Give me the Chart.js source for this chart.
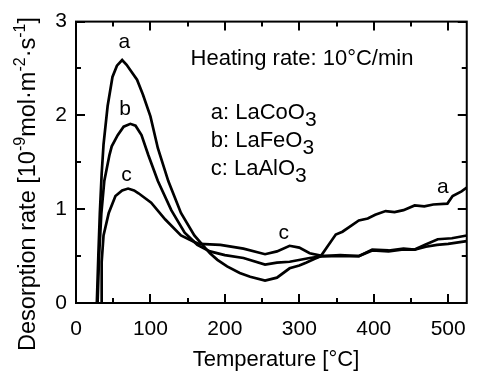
<!DOCTYPE html>
<html>
<head>
<meta charset="utf-8">
<script src="https://cdn.jsdelivr.net/npm/chart.js@4.4.1/dist/chart.umd.min.js"></script>
<style>
  html, body { margin: 0; padding: 0; background: #fff; }
  #wrap { width: 480px; height: 374px; }
</style>
</head>
<body>
<div id="wrap"><canvas id="tpdChart" width="480" height="374"></canvas></div>
<script>
const FONT = '"Liberation Sans", Arial, Helvetica, sans-serif';

// tick labels
const xTicks = [0, 100, 200, 300, 400, 500];
const yTicks = [0, 1, 2, 3];

// series names (a, b, c)
const seriesKeys = ['a', 'b', 'c'];
const seriesNames = ['LaCoO3', 'LaFeO3', 'LaAlO3'];

// a: LaCoO3
const tempA = [28, 30, 32, 34.5, 37, 42.5, 49, 55, 62, 68, 75, 82, 90, 100, 110, 124, 141, 159, 170, 180, 190, 203, 220, 234, 254, 270, 287, 300, 309, 320, 329, 336, 349, 358, 367, 380, 392, 402, 416, 428, 440, 455, 468, 480, 499, 506, 518, 525];
const rateA = [0, 0.5, 0.95, 1.38, 1.69, 2.10, 2.41, 2.53, 2.59, 2.54, 2.46, 2.38, 2.22, 1.99, 1.65, 1.30, 0.96, 0.72, 0.62, 0.53, 0.46, 0.39, 0.32, 0.28, 0.24, 0.27, 0.37, 0.40, 0.43, 0.47, 0.50, 0.58, 0.73, 0.76, 0.81, 0.88, 0.90, 0.94, 0.98, 0.97, 0.99, 1.04, 1.03, 1.05, 1.06, 1.14, 1.19, 1.23];

// b: LaFeO3
const tempB = [29, 31, 34, 38, 41, 45, 48, 56, 64, 73, 80, 88, 97, 110, 128, 146, 163, 180, 200, 225, 254, 270, 287, 314, 332, 355, 380, 398, 420, 440, 455, 469, 486, 505, 525];
const rateB = [0, 0.5, 0.95, 1.3, 1.42, 1.58, 1.67, 1.79, 1.88, 1.91, 1.89, 1.79, 1.58, 1.30, 0.99, 0.75, 0.62, 0.55, 0.51, 0.48, 0.41, 0.43, 0.44, 0.48, 0.50, 0.51, 0.50, 0.57, 0.56, 0.58, 0.57, 0.62, 0.68, 0.69, 0.72];

// c: LaAlO3
const tempC = [34, 34.5, 37, 44, 53, 62, 70, 78, 84, 101, 120, 141, 159, 166, 194, 225, 254, 270, 287, 300, 314, 332, 355, 380, 398, 420, 440, 455, 470, 485, 500, 525];
const rateC = [0, 0.44, 0.72, 0.96, 1.14, 1.20, 1.22, 1.20, 1.17, 1.07, 0.89, 0.72, 0.65, 0.63, 0.62, 0.58, 0.52, 0.55, 0.61, 0.59, 0.53, 0.50, 0.50, 0.50, 0.56, 0.55, 0.57, 0.57, 0.60, 0.62, 0.63, 0.66];

const toPoints = (xs, ys) => xs.map((t, i) => ({ x: t, y: ys[i] }));

// text runs: [{t, size, dy}] drawn left to right
function runsWidth(ctx, runs) {
  return runs.reduce((w, r) => {
    ctx.font = r.size + 'px ' + FONT;
    return w + ctx.measureText(r.t).width;
  }, 0);
}
function drawRuns(ctx, runs, x, y) {
  runs.forEach(r => {
    ctx.font = r.size + 'px ' + FONT;
    ctx.fillText(r.t, x, y + (r.dy || 0));
    x += ctx.measureText(r.t).width;
  });
}
function formulaRuns(name, size) {
  // digits become subscripts
  return name.split(/(\d+)/).filter(s => s).map(s =>
    /\d/.test(s) ? { t: s, size: size - 1, dy: 7 } : { t: s, size: size });
}

const frameAndText = {
  id: 'frameAndText',
  afterDraw(chart) {
    const { ctx, chartArea: a, scales } = chart;
    const xs = scales.x, ys = scales.y;
    ctx.save();
    ctx.strokeStyle = '#000';
    ctx.fillStyle = '#000';

    // frame
    ctx.lineWidth = 2;
    ctx.strokeRect(a.left, a.top, a.right - a.left, a.bottom - a.top);

    // inward ticks on all sides
    const xMinor = [50, 150, 250, 350, 450];
    const yMinor = [0.5, 1.5, 2.5];
    const seg = (x1, y1, x2, y2) => {
      ctx.beginPath();
      ctx.moveTo(x1, y1);
      ctx.lineTo(x2, y2);
      ctx.stroke();
    };
    xTicks.concat(xMinor).forEach(v => {
      const px = Math.round(xs.getPixelForValue(v));
      const len = xTicks.includes(v) ? 9 : 5;
      seg(px, a.bottom, px, a.bottom - len);
      seg(px, a.top, px, a.top + len);
    });
    yTicks.concat(yMinor).forEach(v => {
      const py = Math.round(ys.getPixelForValue(v));
      const len = yTicks.includes(v) ? 9 : 5;
      seg(a.left, py, a.left + len, py);
      seg(a.right, py, a.right - len, py);
    });

    ctx.textBaseline = 'alphabetic';

    // curve labels
    ctx.textAlign = 'center';
    ctx.font = '21px ' + FONT;
    [['a', 65, 2.72], ['b', 66, 2.0], ['c', 68, 1.3], ['c', 279, 0.68], ['a', 493, 1.17]].forEach(([t, tx, ty]) => {
      ctx.fillText(t, xs.getPixelForValue(tx), ys.getPixelForValue(ty));
    });

    // heading and legend
    ctx.textAlign = 'left';
    ctx.font = '22px ' + FONT;
    ctx.fillText('Heating rate: 10\u00B0C/min', xs.getPixelForValue(154), ys.getPixelForValue(2.54));
    seriesKeys.forEach((k, i) => {
      const runs = [{ t: k + ': ', size: 22 }].concat(formulaRuns(seriesNames[i], 22));
      drawRuns(ctx, runs, xs.getPixelForValue(181), ys.getPixelForValue(1.96 - i * 0.3));
    });

    // x title
    ctx.textAlign = 'center';
    ctx.font = '22px ' + FONT;
    ctx.fillText('Temperature [\u00B0C]', 276, 366);

    // y title with superscripts
    const sup = { size: 16, dy: -10 };
    const yRuns = [
      { t: 'Desorption rate [10', size: 23.5 },
      Object.assign({ t: '-9' }, sup),
      { t: 'mol\u00B7m', size: 23.5 },
      Object.assign({ t: '-2' }, sup),
      { t: '\u00B7s', size: 23.5 },
      Object.assign({ t: '-1' }, sup),
      { t: ']', size: 23.5 }
    ];
    ctx.textAlign = 'left';
    const w = runsWidth(ctx, yRuns);
    ctx.translate(35, 184);
    ctx.rotate(-Math.PI / 2);
    drawRuns(ctx, yRuns, -w / 2, 0);

    ctx.restore();
  }
};

const lineStyle = { showLine: true, pointRadius: 0, borderColor: '#000', borderWidth: 2.7, tension: 0, fill: false };

new Chart(document.getElementById('tpdChart'), {
  type: 'scatter',
  data: {
    datasets: [
      Object.assign({ label: seriesNames[0], data: toPoints(tempA, rateA) }, lineStyle),
      Object.assign({ label: seriesNames[1], data: toPoints(tempB, rateB) }, lineStyle),
      Object.assign({ label: seriesNames[2], data: toPoints(tempC, rateC) }, lineStyle)
    ]
  },
  options: {
    responsive: false,
    animation: false,
    layout: { padding: { top: 13, right: 7, left: 0, bottom: 0 } },
    plugins: { legend: { display: false }, tooltip: { enabled: false } },
    scales: {
      x: {
        type: 'linear',
        min: 0,
        max: 525,
        afterBuildTicks: s => { s.ticks = xTicks.map(v => ({ value: v })); },
        afterFit: s => { s.height = 71; },
        grid: { display: false, drawTicks: false },
        border: { display: false },
        ticks: { color: '#000', padding: 14, maxRotation: 0, font: { family: FONT, size: 21 } }
      },
      y: {
        type: 'linear',
        min: 0,
        max: 3,
        afterBuildTicks: s => { s.ticks = yTicks.map(v => ({ value: v })); },
        afterFit: s => { s.width = 76; },
        grid: { display: false, drawTicks: false },
        border: { display: false },
        ticks: { color: '#000', padding: 9, font: { family: FONT, size: 21 } }
      }
    }
  },
  plugins: [frameAndText]
});
</script>
</body>
</html>
